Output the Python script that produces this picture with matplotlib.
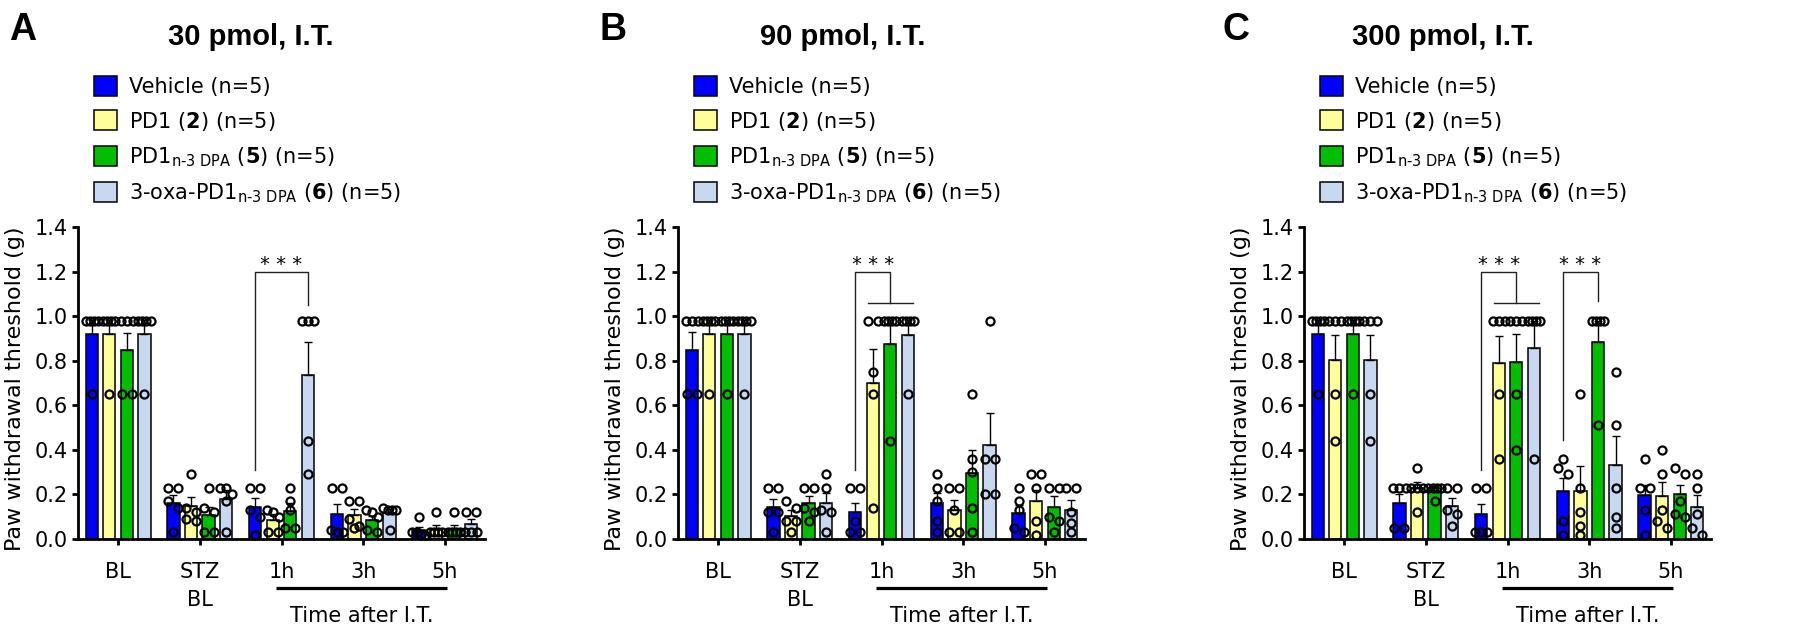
import numpy as np
import matplotlib
matplotlib.use('Agg')
import matplotlib.pyplot as plt
from matplotlib.patches import Patch
from matplotlib.transforms import blended_transform_factory

plt.rcParams['font.family'] = ['DejaVu Sans']
plt.rcParams['mathtext.fontset'] = 'dejavusans'

groups = ['BL', 'STZ', '1h', '3h', '5h']
labels = ['Vehicle (n=5)',
          r'PD1 ($\mathbf{2}$) (n=5)',
          r'PD1$_{\text{n-3 DPA}}$ ($\mathbf{5}$) (n=5)',
          r'3-oxa-PD1$_{\text{n-3 DPA}}$ ($\mathbf{6}$) (n=5)']
colors = ['#0000FF', '#FFFF99', '#00BF00', '#C6D9F1']
titles = ['30 pmol, I.T.', '90 pmol, I.T.', '300 pmol, I.T.']
letters = ['A', 'B', 'C']

# mean per group (rows) and series (columns)
means_30 = [[0.918, 0.918, 0.846, 0.918],
            [0.163, 0.150, 0.108, 0.178],
            [0.145, 0.085, 0.127, 0.737],
            [0.112, 0.108, 0.085, 0.115],
            [0.040, 0.045, 0.045, 0.067]]
sems_30 = [[0.066, 0.066, 0.080, 0.066],
           [0.035, 0.040, 0.035, 0.040],
           [0.040, 0.025, 0.035, 0.146],
           [0.045, 0.025, 0.020, 0.020],
           [0.015, 0.018, 0.018, 0.022]]
points_30 = [
    [[0.98, 0.98, 0.98, 0.98, 0.65], [0.98, 0.98, 0.98, 0.98, 0.65],
     [0.98, 0.98, 0.98, 0.65, 0.65], [0.98, 0.98, 0.98, 0.98, 0.65]],
    [[0.23, 0.23, 0.17, 0.14, 0.03], [0.29, 0.14, 0.12, 0.09, 0.08],
     [0.23, 0.14, 0.12, 0.03, 0.03], [0.23, 0.23, 0.20, 0.17, 0.03]],
    [[0.23, 0.23, 0.13, 0.10, 0.02], [0.13, 0.12, 0.10, 0.03, 0.03],
     [0.23, 0.17, 0.13, 0.05, 0.05], [0.98, 0.98, 0.98, 0.44, 0.29]],
    [[0.23, 0.23, 0.04, 0.03, 0.03], [0.17, 0.17, 0.09, 0.06, 0.05],
     [0.13, 0.12, 0.10, 0.04, 0.03], [0.14, 0.13, 0.13, 0.13, 0.04]],
    [[0.10, 0.03, 0.03, 0.02, 0.02], [0.12, 0.03, 0.03, 0.03, 0.03],
     [0.12, 0.03, 0.03, 0.03, 0.03], [0.12, 0.12, 0.03, 0.03, 0.03]]]

means_90 = [[0.849, 0.918, 0.918, 0.918],
            [0.145, 0.105, 0.160, 0.163],
            [0.120, 0.702, 0.874, 0.916],
            [0.163, 0.130, 0.295, 0.422],
            [0.118, 0.170, 0.142, 0.130]]
sems_90 = [[0.080, 0.066, 0.066, 0.066],
           [0.036, 0.025, 0.033, 0.042],
           [0.040, 0.151, 0.108, 0.066],
           [0.042, 0.045, 0.105, 0.145],
           [0.035, 0.050, 0.050, 0.045]]
points_90 = [
    [[0.98, 0.98, 0.98, 0.65, 0.65], [0.98, 0.98, 0.98, 0.98, 0.65],
     [0.98, 0.98, 0.98, 0.98, 0.65], [0.98, 0.98, 0.98, 0.98, 0.65]],
    [[0.23, 0.23, 0.12, 0.12, 0.03], [0.17, 0.14, 0.08, 0.08, 0.03],
     [0.23, 0.23, 0.14, 0.12, 0.08], [0.29, 0.23, 0.13, 0.12, 0.03]],
    [[0.23, 0.23, 0.08, 0.03, 0.03], [0.98, 0.98, 0.75, 0.65, 0.14],
     [0.98, 0.98, 0.98, 0.98, 0.44], [0.98, 0.98, 0.98, 0.98, 0.65]],
    [[0.29, 0.23, 0.17, 0.08, 0.03], [0.23, 0.23, 0.13, 0.03, 0.03],
     [0.65, 0.36, 0.30, 0.14, 0.03], [0.98, 0.36, 0.36, 0.20, 0.20]],
    [[0.23, 0.17, 0.13, 0.05, 0.03], [0.29, 0.29, 0.23, 0.08, 0.02],
     [0.23, 0.23, 0.10, 0.08, 0.03], [0.23, 0.23, 0.12, 0.07, 0.03]]]

means_300 = [[0.918, 0.804, 0.918, 0.804],
             [0.163, 0.230, 0.227, 0.150],
             [0.110, 0.789, 0.796, 0.856],
             [0.216, 0.216, 0.883, 0.332],
             [0.198, 0.193, 0.200, 0.145]]
sems_300 = [[0.066, 0.112, 0.066, 0.112],
            [0.037, 0.027, 0.012, 0.036],
            [0.047, 0.123, 0.123, 0.120],
            [0.056, 0.112, 0.094, 0.128],
            [0.045, 0.064, 0.043, 0.053]]
points_300 = [
    [[0.98, 0.98, 0.98, 0.98, 0.65], [0.98, 0.98, 0.98, 0.65, 0.44],
     [0.98, 0.98, 0.98, 0.98, 0.65], [0.98, 0.98, 0.98, 0.65, 0.44]],
    [[0.23, 0.23, 0.23, 0.05, 0.05], [0.32, 0.23, 0.23, 0.23, 0.12],
     [0.23, 0.23, 0.23, 0.23, 0.17], [0.23, 0.23, 0.13, 0.11, 0.06]],
    [[0.23, 0.23, 0.03, 0.03, 0.03], [0.98, 0.98, 0.98, 0.65, 0.36],
     [0.98, 0.98, 0.98, 0.65, 0.40], [0.98, 0.98, 0.98, 0.98, 0.36]],
    [[0.36, 0.32, 0.29, 0.08, 0.02], [0.65, 0.23, 0.12, 0.06, 0.02],
     [0.98, 0.98, 0.98, 0.98, 0.51], [0.75, 0.51, 0.23, 0.10, 0.05]],
    [[0.36, 0.23, 0.23, 0.13, 0.02], [0.40, 0.29, 0.13, 0.08, 0.05],
     [0.32, 0.29, 0.17, 0.11, 0.10], [0.29, 0.23, 0.11, 0.05, 0.02]]]

# significance brackets: (group, left series, left foot, right series, right foot, sub-line)
brackets_30 = [(2, 0, 0.31, 3, 1.05, False)]
brackets_90 = [(2, 0, 0.31, 2, 1.06, True)]
brackets_300 = [(2, 0, 0.31, 2, 1.06, True), (3, 0, 0.445, 2, 1.07, False)]

panels = [(means_30, sems_30, points_30, brackets_30),
          (means_90, sems_90, points_90, brackets_90),
          (means_300, sems_300, points_300, brackets_300)]

W, H = 1798, 635
fig = plt.figure(figsize=(W / 100, H / 100), dpi=100)

ax_left = [78, 678, 1304]
ax_w = 407
ax_top, ax_bot = 227, 539
title_x = [251, 843, 1443]
letter_x = [9, 600, 1222]

offsets = (np.arange(4) - 1.5) * 0.215
bar_w = 0.15
xlim = (-0.49, 4.49)
diam = 10.5  # marker size in px, used to spread equal values


def spread(vals, px_x, px_y):
    # values closer than a marker go side by side, squeezed to the bar width
    vals = sorted(vals, reverse=True)
    rows = []
    for v in vals:
        if rows and (rows[-1][0] - v) * px_y < diam * 0.8:
            rows[-1].append(v)
        else:
            rows.append([v])
    xs, ys = [], []
    for r in rows:
        k = len(r)
        step = diam * 0.95 / px_x
        if k > 1:
            step = min(step, 0.15 / (k - 1))
        for i, v in enumerate(r):
            xs.append((i - (k - 1) / 2) * step)
            ys.append(v)
    return xs, ys


for p, (means, sems, points, brackets) in enumerate(panels):
    ax = fig.add_axes([ax_left[p] / W, 1 - ax_bot / H, ax_w / W, (ax_bot - ax_top) / H])
    ax.set_xlim(*xlim)
    ax.set_ylim(0, 1.4)
    px_x = ax_w / (xlim[1] - xlim[0])
    px_y = (ax_bot - ax_top) / 1.4
    means = np.array(means)
    sems = np.array(sems)
    x0 = np.arange(len(groups))

    for s in range(4):
        xs = x0 + offsets[s]
        ax.bar(xs, means[:, s], width=bar_w, color=colors[s], edgecolor='black',
               linewidth=1.1, zorder=2)
        ax.errorbar(xs, means[:, s], yerr=[np.zeros(len(groups)), sems[:, s]], fmt='none',
                    ecolor='black', elinewidth=1.0, capsize=3.2, capthick=1.0, zorder=3)
        for g in range(len(groups)):
            dx, ys = spread(points[g][s], px_x, px_y)
            ax.plot(xs[g] + np.array(dx), ys, 'o', ms=5.8, mfc='none', mec='black',
                    mew=1.6, clip_on=False, zorder=4)

    for g, sl, yl, sr, yr, sub in brackets:
        xl = g + offsets[sl]
        xr = g + offsets[sr]
        ax.plot([xl, xl, xr, xr], [yl, 1.2, 1.2, yr], color='#222222', lw=1.0, zorder=5)
        if sub:
            ax.plot([g + offsets[1] - 0.06, g + offsets[3] + 0.06], [yr, yr],
                    color='#222222', lw=1.0, zorder=5)
        ax.text((xl + xr) / 2, 1.19, '* * *', ha='center', va='bottom', fontsize=14)

    for side in ['top', 'right']:
        ax.spines[side].set_visible(False)
    for side in ['left', 'bottom']:
        ax.spines[side].set_linewidth(2.0)
    ax.set_yticks(np.arange(0, 1.41, 0.2))
    ax.set_yticklabels([f'{v:.1f}' for v in np.arange(0, 1.41, 0.2)])
    ax.set_xticks(x0)
    ax.set_xticklabels(groups)
    ax.tick_params(axis='y', width=2.0, length=4.5, labelsize=15, pad=3)
    ax.tick_params(axis='x', width=2.0, length=4.5, labelsize=15, pad=12)

    ax.set_ylabel('Paw withdrawal threshold (g)', fontsize=16)
    ax.yaxis.set_label_coords(-0.13, 0.48)

    trans = blended_transform_factory(ax.transData, ax.transAxes)
    ax.text(1, -0.196, 'BL', transform=trans, ha='center', va='center', fontsize=15)
    ax.plot([1.93, 4.03], [-0.157, -0.157], transform=trans, color='black', lw=2.3,
            clip_on=False, solid_capstyle='butt')
    ax.text(2.98, -0.247, 'Time after I.T.', transform=trans, ha='center', va='center',
            fontsize=15)

    handles = [Patch(facecolor=c, edgecolor='black', linewidth=1.1) for c in colors]
    ax.legend(handles, labels, loc='upper left',
              bbox_to_anchor=((ax_left[p] + 16) / W, 1 - 76 / H),
              bbox_transform=fig.transFigure, frameon=False, fontsize=15,
              handlelength=1.1, handleheight=1.1, handletextpad=0.6,
              labelspacing=0.6, borderpad=0, borderaxespad=0)

    fig.text(title_x[p] / W, 1 - 45 / H, titles[p], ha='center', va='baseline',
             fontsize=21, fontweight='bold', family='Liberation Sans')
    fig.text(letter_x[p] / W, 1 - 40 / H, letters[p], ha='left', va='baseline',
             fontsize=27, fontweight='bold', family='Liberation Sans')

fig.savefig('out.png', dpi=100)
